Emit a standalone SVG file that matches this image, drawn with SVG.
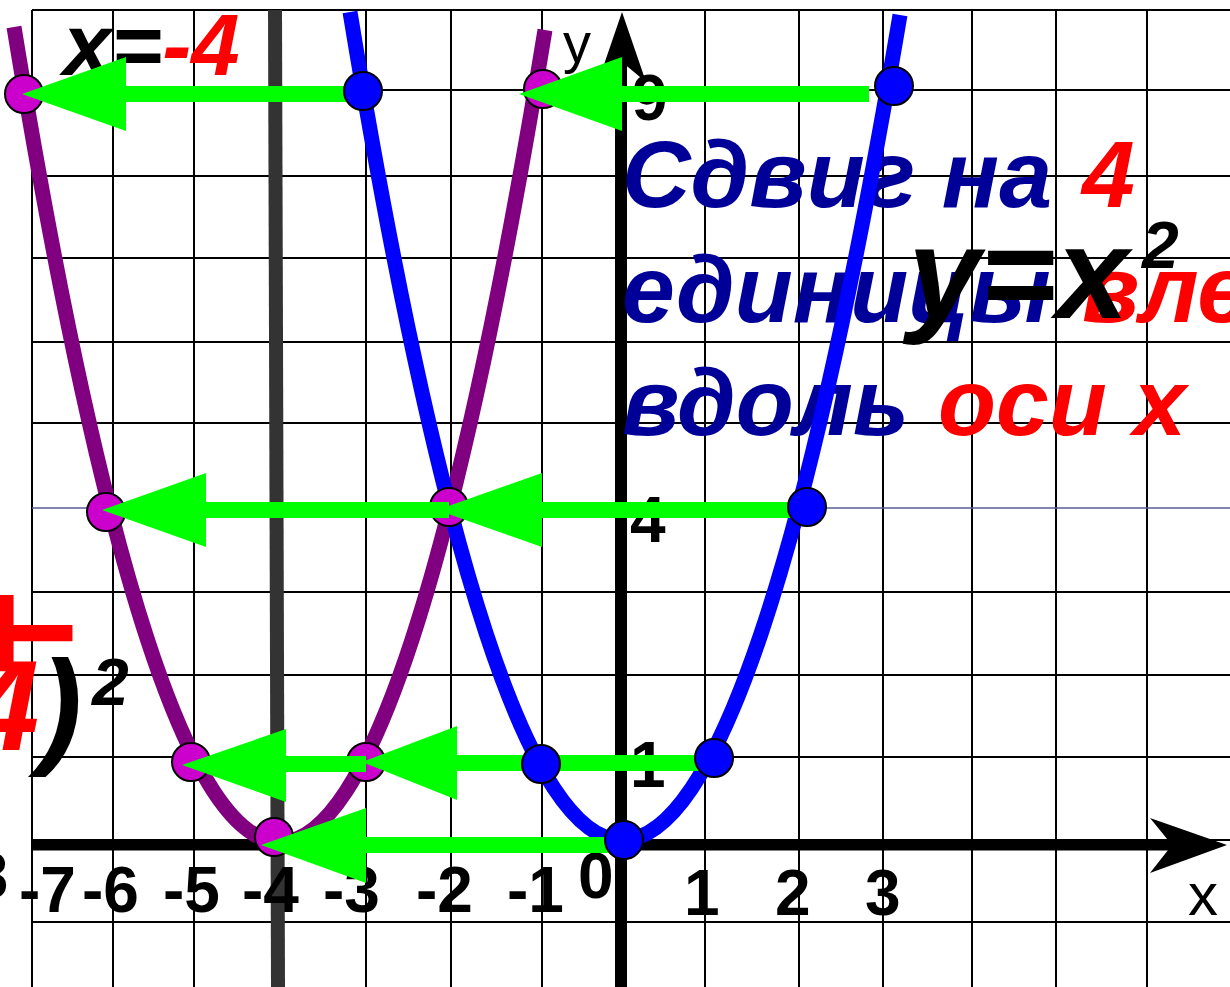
<svg xmlns="http://www.w3.org/2000/svg" width="1230" height="987" viewBox="0 0 1230 987">
<style>
.grid{stroke:#000;stroke-width:2;fill:none}
.tick{font-family:"Liberation Sans",Arial,sans-serif;font-weight:bold;font-size:64px;fill:#000}
.bi{font-family:"Liberation Sans",Arial,sans-serif;font-weight:bold;font-style:italic}
.blue{fill:#000099}
.red{fill:#ff0000}
.blk{fill:#000}
.curve{fill:none;stroke-width:15;stroke-linecap:butt}
.mag{fill:#cc00cc;stroke:#000;stroke-width:2}
.bpt{fill:#0000ff;stroke:#000;stroke-width:2}
.arr{fill:#00ff00;stroke:none}
</style>
<rect width="1230" height="987" fill="#fff"/>
<g id="grid">
<path class="grid" d="M32 10V987M113 10V987M194 10V987M277 10V987M366 10V987M451 10V987M542 10V987M705 10V987M799 10V987M883 10V987M972 10V987M1056 10V987M1147 10V987"/>
<path class="grid" d="M32 10H1230M32 90H1230M32 176H1230M32 258H1230M32 342H1230M32 423H1230M32 592H1230M32 675H1230M32 757H1230M32 840H1230M32 922H1230"/>
<line x1="32" y1="508" x2="1230" y2="508" stroke="#5a5a96" stroke-width="1.5"/>
<line id="line-x-minus4" x1="275" y1="10" x2="278" y2="987" stroke="#333" stroke-width="14"/>
</g>
<g id="axes">
<line x1="32" y1="845" x2="1174" y2="845" stroke="#000" stroke-width="11"/>
<polygon points="1227,845 1150,818 1172,845 1150,873" fill="#000"/>
<line x1="621" y1="55" x2="621" y2="987" stroke="#000" stroke-width="12"/>
<polygon points="622,12 646,82 622,62 598,82" fill="#000"/>
</g>
<g id="labels">
<text class="tick" x="8" y="898" text-anchor="end">-8</text>
<text class="tick" x="19" y="912">-7</text>
<text class="tick" x="82" y="912">-6</text>
<text class="tick" x="163" y="912">-5</text>
<text class="tick" x="242" y="912">-4</text>
<text class="tick" x="323" y="912">-3</text>
<text class="tick" x="416" y="912">-2</text>
<text class="tick" x="507" y="912">-1</text>
<text class="tick" x="578" y="898">0</text>
<text class="tick" x="684" y="915">1</text>
<text class="tick" x="775" y="915">2</text>
<text class="tick" x="865" y="915">3</text>
<text x="1188" y="915" font-family="Liberation Sans,Arial,sans-serif" font-size="60">x</text>
<text x="563" y="62" font-family="Liberation Sans,Arial,sans-serif" font-size="56">y</text>
<text class="tick" x="630" y="787">1</text>
<text class="tick" x="630" y="542">4</text>
<text class="tick" x="632" y="120">9</text>
</g>
<g id="caption">
<text class="bi" font-size="95" y="207"><tspan class="blue" x="622">Сдвиг на</tspan><tspan class="red" x="1082">4</tspan></text>
<text class="bi" font-size="95" y="322"><tspan class="blue" x="622">единицы</tspan><tspan class="red" x="1082">вле</tspan></text>
<text class="bi" font-size="95" y="435"><tspan class="blue" x="622">вдоль</tspan><tspan class="red" x="938">оси х</tspan></text>
</g>
<g id="formula-parabola">
<text class="bi blk" font-size="130" x="908" y="318">y=x</text>
<text class="bi blk" font-size="66" x="1142" y="268">2</text>
</g>
<g id="formula-axis">
<text class="bi blk" font-size="87" y="75"><tspan x="63">x=</tspan><tspan class="red">-4</tspan></text>
</g>
<g id="formula-shifted">
<text class="red" font-family="Liberation Sans,Arial,sans-serif" font-weight="bold" font-size="150" text-anchor="middle" transform="translate(-3,683) scale(2,1)">+</text>
<text class="bi" font-size="128" y="750"><tspan class="red" x="-32">4</tspan><tspan class="blk">)</tspan></text>
<text class="bi blk" font-size="66" x="92" y="705">2</text>
</g>
<g id="curves">
<path id="parabola-shifted" class="curve" stroke="#800080" d="M14 27Q147 842 280 842Q412 842 545 30"/>
<path id="parabola-base" class="curve" stroke="#0000ff" d="M350 12Q486 840 622 840Q761 840 900 15"/>
</g>
<g id="points-shifted">
<circle class="mag" cx="24" cy="94" r="19"/>
<circle class="mag" cx="106" cy="512" r="19"/>
<circle class="mag" cx="191" cy="762" r="19"/>
<circle class="mag" cx="274" cy="837" r="19"/>
<circle class="mag" cx="366" cy="762" r="19"/>
<circle class="mag" cx="449" cy="507" r="19"/>
<circle class="mag" cx="543" cy="89" r="19"/>
</g>
<g id="connectors">
<polygon class="arr" points="355,86 126,86 126,57 22,94 126,131 126,102 355,102"/>
<polygon class="arr" points="869,86 622,86 622,57 519,94 622,131 622,102 869,102"/>
<polygon class="arr" points="792,502 542,502 542,473 437,510 542,547 542,518 792,518"/>
<polygon class="arr" points="449,502 206,502 206,473 102,510 206,547 206,518 449,518"/>
<polygon class="arr" points="700,755 457,755 457,726 362,762 457,800 457,771 700,771"/>
<polygon class="arr" points="366,756 286,756 286,729 182,765 286,802 286,772 366,772"/>
<polygon class="arr" points="615,837 366,837 366,808 261,845 366,883 366,853 615,853"/>
</g>
<g id="points-base">
<circle class="bpt" cx="363" cy="91" r="19"/>
<circle class="bpt" cx="541" cy="764" r="19"/>
<circle class="bpt" cx="624" cy="840" r="19"/>
<circle class="bpt" cx="714" cy="758" r="19"/>
<circle class="bpt" cx="807" cy="507" r="19"/>
<circle class="bpt" cx="894" cy="86" r="19"/>
</g>
</svg>
